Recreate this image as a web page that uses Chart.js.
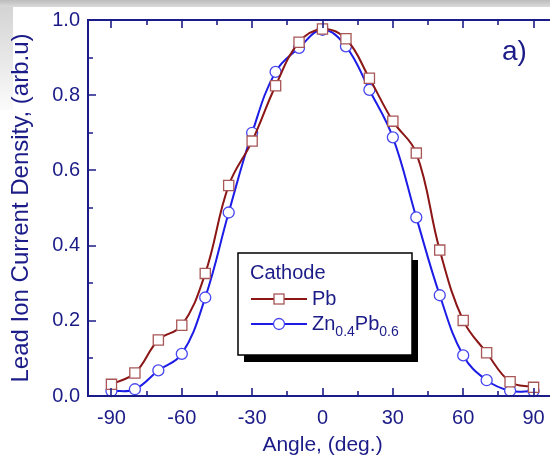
<!DOCTYPE html>
<html>
<head>
<meta charset="utf-8">
<script src="https://cdn.jsdelivr.net/npm/chart.js@4.4.1/dist/chart.umd.min.js"></script>
<style>
  html, body { margin: 0; padding: 0; background: #fff; overflow: hidden; width: 550px; height: 459px; }
  #wrap { position: absolute; left: 0; top: 0; width: 570px; height: 459px; }
</style>
</head>
<body>
<div id="wrap"><canvas id="myChart" width="570" height="459"></canvas></div>
<script>
// angles (deg.)
var angles = [-90, -80, -70, -60, -50, -40, -30, -20, -10, 0, 10, 20, 30, 40, 50, 60, 70, 80, 90];
// Pb cathode
var pbValues = [0.031, 0.061, 0.149, 0.188, 0.326, 0.560, 0.678, 0.825, 0.941, 0.976, 0.950, 0.845, 0.731, 0.646, 0.388, 0.201, 0.115, 0.038, 0.023];
// Zn0.4Pb0.6 cathode
var znValues = [0.013, 0.018, 0.068, 0.112, 0.262, 0.488, 0.700, 0.862, 0.926, 0.974, 0.930, 0.814, 0.688, 0.475, 0.268, 0.108, 0.042, 0.014, 0.013];

var xTicks = [-90, -60, -30, 0, 30, 60, 90];
var xMinorTicks = [-75, -45, -15, 15, 45, 75];
var yTicks = [0.0, 0.2, 0.4, 0.6, 0.8, 1.0];
var yMinorTicks = [0.1, 0.3, 0.5, 0.7, 0.9];

var navy = '#1c1c88';
var pbLine = '#8c1616';
var pbMarker = '#a85656';
var znLine = '#1c1ce6';
var znMarker = '#4646f0';
var font = '"Liberation Sans", Arial, sans-serif';

function pairs(xs, ys) {
	return xs.map(function (x, i) { return { x: x, y: ys[i] }; });
}

var decor = {
	id: 'decor',
	beforeDraw: function (chart) {
		var c = chart.ctx;
		c.save();
		var g = c.createLinearGradient(0, 0, 0, 7);
		g.addColorStop(0, '#bcbcbc');
		g.addColorStop(1, '#dadada');
		c.fillStyle = g;
		c.fillRect(0, 0, 570, 7);
		var g2 = c.createLinearGradient(0, 7, 0, 110);
		g2.addColorStop(0, '#d4d4d4');
		g2.addColorStop(1, '#fbfbfb');
		c.fillStyle = g2;
		c.fillRect(0, 7, 13, 103);
		c.restore();
	},
	afterDatasetsDraw: function (chart) {
		var c = chart.ctx;
		var a = chart.chartArea;
		var xs = chart.scales.x, ys = chart.scales.y;
		c.save();
		c.strokeStyle = navy;
		c.lineWidth = 2;
		// frame (left, bottom, top)
		c.beginPath();
		c.moveTo(a.right + 5, a.top);
		c.lineTo(a.left, a.top);
		c.lineTo(a.left, a.bottom);
		c.lineTo(a.right + 5, a.bottom);
		c.stroke();
		// inward ticks
		c.lineWidth = 1.6;
		c.beginPath();
		xTicks.forEach(function (v) {
			var px = Math.round(xs.getPixelForValue(v));
			c.moveTo(px, a.bottom); c.lineTo(px, a.bottom - 8);
			c.moveTo(px, a.top); c.lineTo(px, a.top + 8);
		});
		xMinorTicks.forEach(function (v) {
			var px = Math.round(xs.getPixelForValue(v));
			c.moveTo(px, a.bottom); c.lineTo(px, a.bottom - 5);
			c.moveTo(px, a.top); c.lineTo(px, a.top + 5);
		});
		yTicks.forEach(function (v) {
			var py = Math.round(ys.getPixelForValue(v));
			c.moveTo(a.left, py); c.lineTo(a.left + 8, py);
		});
		yMinorTicks.forEach(function (v) {
			var py = Math.round(ys.getPixelForValue(v));
			c.moveTo(a.left, py); c.lineTo(a.left + 5, py);
		});
		c.stroke();
		c.restore();
	},
	afterDraw: function (chart) {
		var c = chart.ctx;
		var ds = chart.data.datasets;
		c.save();
		// panel label
		c.fillStyle = navy;
		c.font = '28px ' + font;
		c.textBaseline = 'middle';
		c.fillText('a)', 502, 52);

		// legend box with drop shadow
		var bx = 238, by = 253, bw = 174, bh = 102;
		c.fillStyle = '#000';
		c.fillRect(bx + 6, by + 7, bw, bh);
		c.fillStyle = '#fff';
		c.fillRect(bx, by, bw, bh);
		c.strokeStyle = '#000';
		c.lineWidth = 1.5;
		c.strokeRect(bx, by, bw, bh);

		c.fillStyle = navy;
		c.font = '20px ' + font;
		c.textBaseline = 'middle';
		c.fillText('Cathode', 250, 273);

		// Pb row
		var r1 = 299;
		c.strokeStyle = ds[0].borderColor;
		c.lineWidth = 1.8;
		c.beginPath(); c.moveTo(251, r1); c.lineTo(307, r1); c.stroke();
		c.fillStyle = '#fff';
		c.fillRect(274, r1 - 5, 10, 10);
		c.strokeStyle = ds[0].pointBorderColor;
		c.lineWidth = 1.3;
		c.strokeRect(274, r1 - 5, 10, 10);
		c.fillStyle = navy;
		c.fillText('Pb', 312, r1);

		// Zn0.4Pb0.6 row
		var r2 = 324;
		c.strokeStyle = ds[1].borderColor;
		c.lineWidth = 1.8;
		c.beginPath(); c.moveTo(251, r2); c.lineTo(307, r2); c.stroke();
		c.fillStyle = '#fff';
		c.beginPath(); c.arc(279, r2, 5.5, 0, Math.PI * 2); c.fill();
		c.strokeStyle = ds[1].pointBorderColor;
		c.lineWidth = 1.3;
		c.stroke();
		c.fillStyle = navy;
		var x = 312;
		c.font = '20px ' + font;
		c.fillText('Zn', x, r2); x += c.measureText('Zn').width;
		c.font = '14px ' + font;
		c.fillText('0.4', x, r2 + 8); x += c.measureText('0.4').width;
		c.font = '20px ' + font;
		c.fillText('Pb', x, r2); x += c.measureText('Pb').width;
		c.font = '14px ' + font;
		c.fillText('0.6', x, r2 + 8);
		c.restore();
	}
};

var ctx = document.getElementById('myChart');
var myChart = new Chart(ctx, {
	type: 'line',
	data: {
		datasets: [{
			label: 'Pb',
			data: pairs(angles, pbValues),
			borderColor: pbLine,
			borderWidth: 2,
			pointStyle: 'rect',
			pointRadius: 7.2,
			pointBorderColor: pbMarker,
			pointBackgroundColor: '#fff',
			pointBorderWidth: 1.3,
			tension: 0.4,
			fill: false,
			clip: false
		}, {
			label: 'Zn0.4Pb0.6',
			data: pairs(angles, znValues),
			borderColor: znLine,
			borderWidth: 2,
			pointStyle: 'circle',
			pointRadius: 5.5,
			pointBorderColor: znMarker,
			pointBackgroundColor: '#fff',
			pointBorderWidth: 1.3,
			tension: 0.4,
			fill: false,
			clip: false
		}]
	},
	options: {
		responsive: false,
		animation: false,
		devicePixelRatio: 1,
		layout: { padding: { left: 0, right: 13, top: 15, bottom: 0 } },
		plugins: { legend: { display: false }, tooltip: { enabled: false } },
		scales: {
			x: {
				type: 'linear',
				min: -100,
				max: 100,
				afterBuildTicks: function (s) { s.ticks = xTicks.map(function (v) { return { value: v }; }); },
				afterFit: function (s) { s.height = 63; },
				grid: { display: false, drawTicks: false },
				border: { display: false },
				ticks: {
					color: navy,
					font: { family: font, size: 20 },
					padding: 10,
					maxRotation: 0,
					autoSkip: false,
					callback: function (v) { return String(v); }
				},
				title: {
					display: true,
					text: 'Angle, (deg.)',
					color: navy,
					font: { family: font, size: 21 },
					padding: { top: 0, bottom: 1 }
				}
			},
			y: {
				min: 0,
				max: 1,
				afterBuildTicks: function (s) { s.ticks = yTicks.map(function (v) { return { value: v }; }); },
				afterFit: function (s) { s.width = 88; },
				grid: { display: false, drawTicks: false },
				border: { display: false },
				ticks: {
					color: navy,
					font: { family: font, size: 20 },
					padding: 8,
					callback: function (v) { return Number(v).toFixed(1); }
				},
				title: {
					display: true,
					text: 'Lead Ion Current Density, (arb.u)',
					color: navy,
					font: { family: font, size: 24 },
					padding: { top: 7, bottom: 0 }
				}
			}
		}
	},
	plugins: [decor]
});
</script>
</body>
</html>
